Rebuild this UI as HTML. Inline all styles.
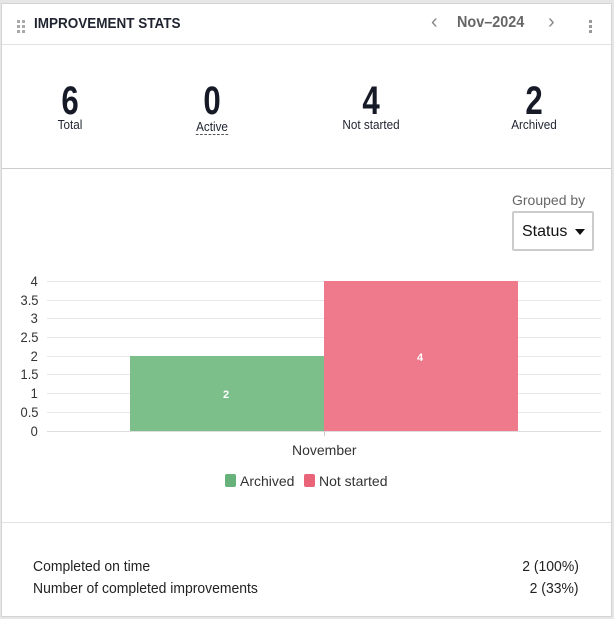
<!DOCTYPE html>
<html><head><meta charset="utf-8"><style>
*{margin:0;padding:0;box-sizing:border-box}
body{width:614px;height:619px;background:#e6e6e6;position:relative;overflow:hidden;font-family:"Liberation Sans",sans-serif;color:#1f2430}
#card{position:absolute;left:1px;top:3px;width:611px;height:614px;background:#fff;border:1px solid #d4d4d4}
.a{position:absolute;white-space:nowrap}
.hr{position:absolute;left:0;width:100%;height:1px;background:#e2e2e2}
.num{position:absolute;font-weight:bold;font-size:40px;transform:scaleX(0.78);transform-origin:center;text-align:center;width:80px;margin-left:-40px;top:75px;color:#151a26}
.lbl{position:absolute;font-size:13px;text-align:center;width:100px;margin-left:-50px;top:113px;transform:scaleX(0.9)}
.dot{position:absolute;width:3px;height:3px;background:#aaa}
.tick{position:absolute;right:576px;font-size:14px;color:#333;transform:scaleX(0.92);transform-origin:right}
.g{position:absolute;left:47px;width:554px;height:1px;background:#e8e8e8}
.bt{position:absolute;font-size:15px;color:#222;transform:scaleX(0.93);white-space:nowrap}
</style></head><body>
<div id="card">
 <div class="dot" style="left:15px;top:16px"></div><div class="dot" style="left:20px;top:16px"></div>
 <div class="dot" style="left:15px;top:21px"></div><div class="dot" style="left:20px;top:21px"></div>
 <div class="dot" style="left:15px;top:26px"></div><div class="dot" style="left:20px;top:26px"></div>
 <div class="a" style="left:32px;top:11px;font-weight:bold;font-size:15px;transform:scaleX(0.9);transform-origin:left">IMPROVEMENT STATS</div>
 <div class="a" style="left:429px;top:7px;font-size:20px;color:#888;font-weight:300">‹</div>
 <div class="a" style="left:455px;top:10px;font-size:16px;color:#666;font-weight:bold;transform:scaleX(0.9);transform-origin:left">Nov–2024</div>
 <div class="a" style="left:546px;top:7px;font-size:20px;color:#888;font-weight:300">›</div>
 <div class="dot" style="left:587px;top:16px;background:#999"></div><div class="dot" style="left:587px;top:21px;background:#999"></div><div class="dot" style="left:587px;top:26px;background:#999"></div>
 <div class="hr" style="top:40px"></div>
 <div class="num" style="left:68px">6</div><div class="lbl" style="left:68px">Total</div>
 <div class="num" style="left:210px">0</div><div class="lbl" style="left:210px;top:115px"><span style="border-bottom:1px dashed #555">Active</span></div>
 <div class="num" style="left:369px">4</div><div class="lbl" style="left:369px">Not started</div>
 <div class="num" style="left:532px">2</div><div class="lbl" style="left:532px">Archived</div>
 <div class="hr" style="top:164px;background:#ccc"></div>
 <div class="a" style="left:510px;top:188px;font-size:14px;color:#666">Grouped by</div>
 <div class="a" style="left:510px;top:207px;width:82px;height:40px;border:2px solid #ccc;border-radius:2px"></div>
 <div class="a" style="left:520px;top:219px;font-size:16px;color:#111">Status</div>
 <div class="a" style="left:573px;top:225px;width:0;height:0;border-left:5px solid transparent;border-right:5px solid transparent;border-top:6px solid #111"></div>
</div>
<div class="g" style="top:281px"></div><div class="g" style="top:300px"></div><div class="g" style="top:318px"></div><div class="g" style="top:337px"></div><div class="g" style="top:356px"></div><div class="g" style="top:374px"></div><div class="g" style="top:393px"></div><div class="g" style="top:412px"></div><div class="g" style="top:431px;background:#ddd"></div>
<div class="tick" style="top:273px">4</div><div class="tick" style="top:292px">3.5</div><div class="tick" style="top:310px">3</div><div class="tick" style="top:329px">2.5</div><div class="tick" style="top:348px">2</div><div class="tick" style="top:366px">1.5</div><div class="tick" style="top:385px">1</div><div class="tick" style="top:404px">0.5</div><div class="tick" style="top:423px">0</div>
<div class="a" style="left:130px;top:356px;width:194px;height:75px;background:#7cbf8b"></div>
<div class="a" style="left:324px;top:281px;width:194px;height:150px;background:#ee7a8b"></div>
<div class="a" style="left:223px;top:389px;color:#fff;font-weight:bold;font-size:11px">2</div>
<div class="a" style="left:417px;top:352px;color:#fff;font-weight:bold;font-size:11px">4</div>
<div class="a" style="left:324px;top:431px;width:1px;height:5px;background:#ccc"></div>
<div class="a" style="left:292px;top:442px;font-size:14px;color:#333">November</div>
<div class="a" style="left:225px;top:474px;width:11px;height:13px;background:#66b27a;border-radius:2px"></div>
<div class="a" style="left:240px;top:473px;font-size:14px;color:#333">Archived</div>
<div class="a" style="left:304px;top:474px;width:11px;height:13px;background:#ea6479;border-radius:2px"></div>
<div class="a" style="left:319px;top:473px;font-size:14px;color:#333">Not started</div>
<div class="a" style="left:2px;top:522px;width:609px;height:1px;background:#e2e2e2"></div>
<div class="bt" style="left:33px;top:558px;transform-origin:left">Completed on time</div>
<div class="bt" style="left:33px;top:580px;transform-origin:left">Number of completed improvements</div>
<div class="bt" style="right:35px;top:558px;transform-origin:right">2 (100%)</div>
<div class="bt" style="right:35px;top:580px;transform-origin:right">2 (33%)</div>
</body></html>
